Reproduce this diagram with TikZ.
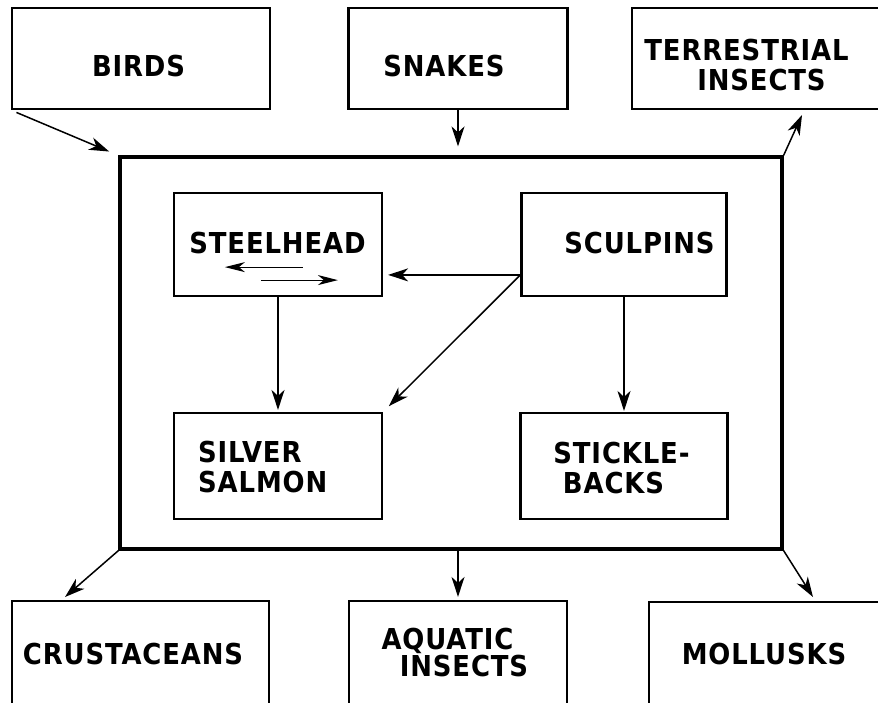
\documentclass[tikz,border=0pt]{standalone}
\usepackage{fontspec}
\setmainfont{DejaVu Sans}
\newfontfamily\lblfont[FakeStretch=0.9,LetterSpace=3]{DejaVu Sans}
\usetikzlibrary{arrows.meta,calc}
\begin{document}
\begin{tikzpicture}[x=1pt,y=-1pt,
  box/.style={draw,rectangle,line width=2.2pt,inner sep=0pt},
  framebox/.style={draw,rectangle,line width=3.2pt,inner sep=0pt},
  conn/.style={line width=1.5pt,-{Stealth[length=20pt,width=13pt,inset=6pt]}},
  thinconn/.style={line width=1.2pt,-{Stealth[length=20pt,width=10pt,inset=6pt]}},
  txt/.style={inner sep=0pt,anchor=base,font=\lblfont\fontsize{28.8}{29}\selectfont\bfseries},
  txtl/.style={txt,anchor=base west}]
\useasboundingbox (0,0) rectangle (878,702);
\clip (0,0) rectangle (878,702);
\fill[white] (0,0) rectangle (878,702);

% boxes
\node[box,minimum width=258pt,minimum height=101pt] (birds) at (141,58.5) {};
\node[box,minimum width=219pt,minimum height=101pt] (snakes) at (458,58.5) {};
\node[box,minimum width=288pt,minimum height=101pt] (terr) at (776,58.5) {};
\node[framebox,minimum width=662pt,minimum height=392pt] (frame) at (451,353) {};
\node[box,minimum width=208pt,minimum height=103pt] (steel) at (278,244.5) {};
\node[box,minimum width=205pt,minimum height=103pt] (sculp) at (624,244.5) {};
\node[box,minimum width=208pt,minimum height=106pt] (silver) at (278,466) {};
\node[box,minimum width=207pt,minimum height=106pt] (stickle) at (624,466) {};
\node[box,minimum width=257pt,minimum height=140pt] (crust) at (140.5,671) {};
\node[box,minimum width=218pt,minimum height=140pt] (aqua) at (458,671) {};
\node[box,minimum width=271pt,minimum height=140pt] (moll) at (784.5,672) {};

% labels
\node[txt] (tbirds) at (138.5,76) {BIRDS};
\node[txt] (tsnakes) at (444,76) {SNAKES};
\node[txt] (tterr1) at (746.5,60) {TERRESTRIAL};
\node[txt] (tterr2) at (761.5,90) {INSECTS};
\node[txt] (tsteel) at (277.5,253) {STEELHEAD};
\node[txt] (tsculp) at (639.5,253) {SCULPINS};
\node[txtl] (tsil1) at (198,462) {SILVER};
\node[txtl] (tsil2) at (198,492) {SALMON};
\node[txt] (tst1) at (621.5,463) {STICKLE-};
\node[txt] (tst2) at (613.5,493) {BACKS};
\node[txt] (tcrust) at (133,664) {CRUSTACEANS};
\node[txt] (taq1) at (447.5,649) {AQUATIC};
\node[txt] (taq2) at (464,676) {INSECTS};
\node[txt] (tmoll) at (764,664) {MOLLUSKS};

% free ends
\coordinate (terrEnd) at (802,115);
\coordinate (crustEnd) at (65,597);
\coordinate (mollEnd) at (813,597);
\coordinate (sj) at ($(sculp.north west)+(0,83)$);

% outer connectors
\draw[conn,shorten <=6pt,shorten >=10pt] (birds.south west) -- (frame.north west);
\draw[conn,shorten >=9pt] (snakes.south) -- (snakes.south |- frame.north);
\draw[conn] (frame.north east) -- (terrEnd);
\draw[conn] (frame.south west) -- (crustEnd);
\draw[conn,shorten >=3pt] (aqua.north |- frame.south) -- (aqua.north);
\draw[conn] (frame.south east) -- (mollEnd);

% inner connectors
\draw[conn,shorten >=5pt] (sj) -- ($(steel.north east)+(0,83)$);
\draw[conn,shorten >=8pt] (sj) -- (silver.north east);
\draw[conn,shorten >=2pt] (steel.south) -- (silver.north);
\draw[conn,shorten >=1pt] (sculp.south) -- (stickle.north);

% arrows inside steelhead
\draw[thinconn] ($(steel.south west)+(130,-30)$) -- ($(steel.south west)+(52,-30)$);
\draw[thinconn] ($(steel.south west)+(88,-17)$) -- ($(steel.south west)+(165,-17)$);
\end{tikzpicture}
\end{document}
